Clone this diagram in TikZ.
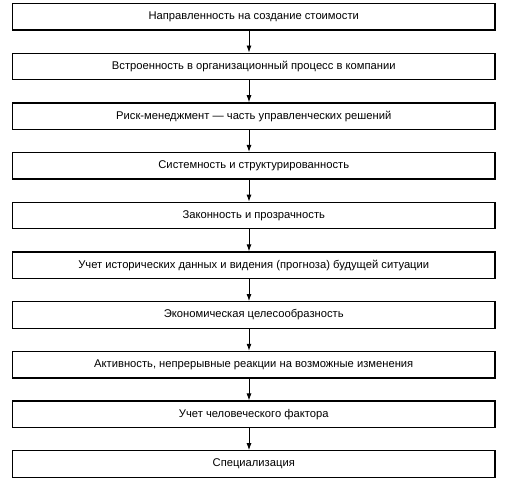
\documentclass[tikz,border=0pt]{standalone}
\usepackage{fontspec}
\setmainfont{Liberation Sans}
\usetikzlibrary{arrows.meta}
\tikzset{
  stepbox/.style={draw=black, line width=1.3pt, rectangle, minimum width=482.5pt, minimum height=26.5pt, inner sep=0pt, font=\fontsize{11.2pt}{13pt}\selectfont, anchor=center},
  arr/.style={line width=0.9pt, -{Latex[length=7pt,width=5pt]}}
}
\begin{document}
\begin{tikzpicture}[x=1pt,y=1pt]
\useasboundingbox (0,0) rectangle (508,-492);
\node[stepbox] (b1) at (253.75,-16.75) {Направленность на создание стоимости};
\node[stepbox] (b2) at (253.75,-66.45) {Встроенность в организационный процесс в компании};
\node[stepbox] (b3) at (253.75,-116.15) {Риск-менеджмент — часть управленческих решений};
\node[stepbox] (b4) at (253.75,-165.85) {Системность и структурированность};
\node[stepbox] (b5) at (253.75,-215.55) {Законность и прозрачность};
\node[stepbox] (b6) at (253.75,-265.25) {Учет исторических данных и видения (прогноза) будущей ситуации};
\node[stepbox] (b7) at (253.75,-314.95) {Экономическая целесообразность};
\node[stepbox] (b8) at (253.75,-364.65) {Активность, непрерывные реакции на возможные изменения};
\node[stepbox] (b9) at (253.75,-414.35) {Учет человеческого фактора};
\node[stepbox] (b10) at (253.75,-464.05) {Специализация};
\coordinate (ax) at (249,0);
\draw[arr] (b1.south -| ax) -- (b2.north -| ax);
\draw[arr] (b2.south -| ax) -- (b3.north -| ax);
\draw[arr] (b3.south -| ax) -- (b4.north -| ax);
\draw[arr] (b4.south -| ax) -- (b5.north -| ax);
\draw[arr] (b5.south -| ax) -- (b6.north -| ax);
\draw[arr] (b6.south -| ax) -- (b7.north -| ax);
\draw[arr] (b7.south -| ax) -- (b8.north -| ax);
\draw[arr] (b8.south -| ax) -- (b9.north -| ax);
\draw[arr] (b9.south -| ax) -- (b10.north -| ax);
\end{tikzpicture}
\end{document}
